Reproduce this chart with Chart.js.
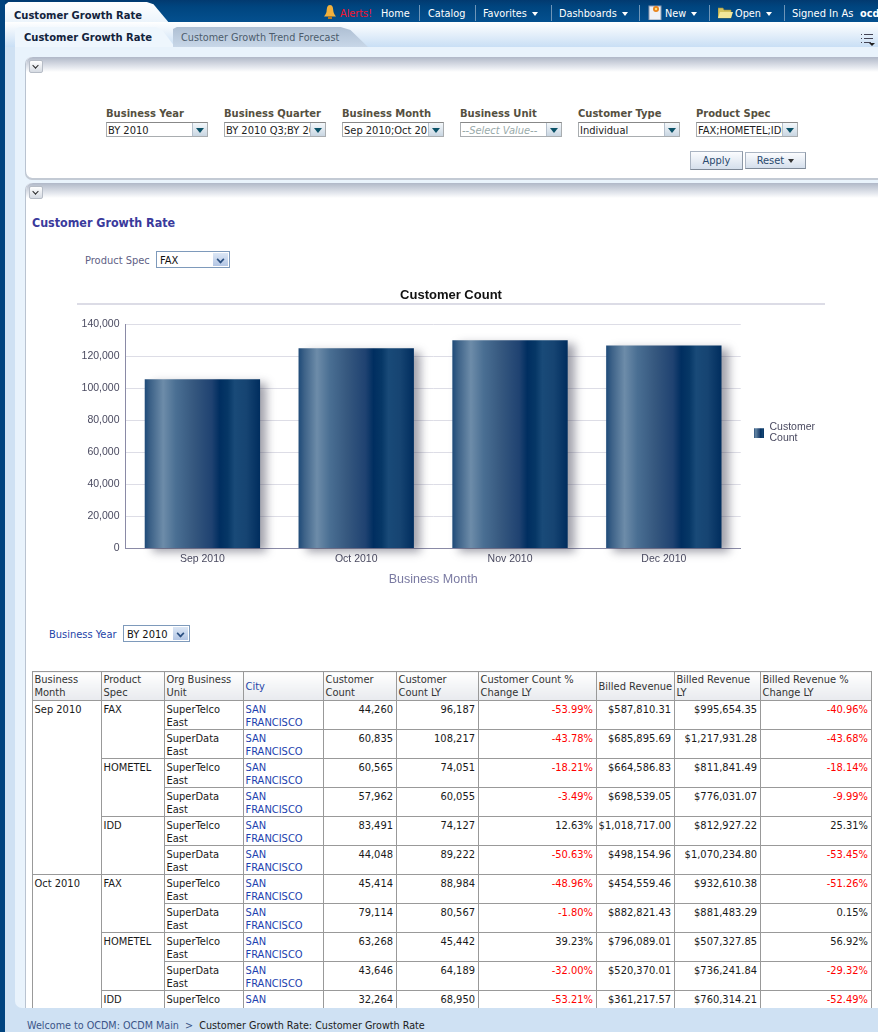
<!DOCTYPE html>
<html><head><meta charset="utf-8">
<script src="https://cdn.jsdelivr.net/npm/chart.js@4"></script>
<style>
html,body{margin:0;padding:0;width:878px;height:1032px;overflow:hidden;background:#cfe1f3}
body{position:relative;font-family:"DejaVu Sans Condensed","DejaVu Sans";font-stretch:condensed;font-size:11px;color:#222}
.a{position:absolute;white-space:nowrap}
.lab{font-weight:bold;color:#55503f;font-size:11.1px;top:107px}
.box{position:absolute;top:122px;width:99px;height:13px;border:1px solid #a9adb0;border-top-color:#888;background:#fff;overflow:hidden;line-height:15px;padding-left:1px;font-size:11px;white-space:nowrap;color:#222}
.dd{position:absolute;right:0;top:0;width:14px;height:13px;background:linear-gradient(#f4f8fb,#c9d6e2);border-left:1px solid #b5c0cc}
.dd:after{content:"";position:absolute;left:3px;top:5px;border:4px solid transparent;border-top:5px solid #0b5268;border-bottom:0}
.sep{position:absolute;top:5px;width:1px;height:16px;background:#6e95b8}
.nav{position:absolute;top:7px;color:#fff;font-size:10.8px;white-space:nowrap}
.arr{display:inline-block;margin-left:5px;border:3.5px solid transparent;border-top:4px solid #fff;border-bottom:0;vertical-align:1px}
.panel{position:absolute;left:25px;width:853px;background:#fff;border-left:1px solid #b9c3d0;border-radius:7px 0 0 7px;box-sizing:border-box}
.ptop{position:absolute;left:0;right:0;top:0;height:15px;background:linear-gradient(#b0b8c8,#e6e9ef 70%,#fff);border-radius:7px 0 0 0}
.col{position:absolute;left:3px;width:12px;height:11px;background:linear-gradient(#fff,#d6dbe3);border:1px solid #b6bcc6;border-radius:2px}
.col:after{content:"";position:absolute;left:3px;top:2px;width:4px;height:4px;border-right:1px solid #222;border-bottom:1px solid #222;transform:rotate(45deg) scale(.9)}
.sel{position:absolute;border:1px solid #7e9abb;background:#fff;height:15px;line-height:17px;padding-left:3px;color:#111;box-sizing:content-box;font-size:11px}
.sbtn{position:absolute;right:1px;top:1px;width:15px;height:13px;background:linear-gradient(#dbe6f5,#b3c6e4)}
.sbtn:after{content:"";position:absolute;left:4px;top:3px;width:5px;height:5px;border-right:2px solid #2a4f80;border-bottom:2px solid #2a4f80;transform:rotate(45deg) scale(.8)}
.btn{position:absolute;background:linear-gradient(#fbfcfe,#d5dfec);border:1px solid #aab4c2;border-bottom-color:#7d8896;border-right-color:#8d98a6;text-align:center;color:#2b4a6e;font-size:11px;box-sizing:border-box}
#tw{position:absolute;left:32px;top:671px;width:840px;height:337px;overflow:hidden}
table{border-collapse:collapse;table-layout:fixed;width:840px;font-size:11px;line-height:13px;color:#1a1a1a}
th,td{border:1px solid #999;padding:0 1px 0 1.5px;vertical-align:top;overflow:hidden;height:28px;box-sizing:border-box;white-space:normal}
td{padding-top:2px}
tr{height:29px}
th{font-weight:normal;text-align:left;vertical-align:middle;background:linear-gradient(#fff,#e8eaee);color:#333}
th.c{color:#2645a8}
td.n{text-align:right;padding-right:3px}
td.l{color:#1d3fae}
.neg{color:#f00}
#cw{position:absolute;left:77px;top:278px;width:748px;height:328px}
</style></head><body>

<!-- frame -->
<div class="a" style="left:0;top:0;width:878px;height:22px;background:linear-gradient(#023a70,#00457f 30%,#04508f)"></div>
<div class="a" style="left:0;top:0;width:5px;height:1032px;background:#00437f"></div>
<div class="a" style="left:5px;top:2px;width:165px;height:22px;background:linear-gradient(#fff,#eaf3fb);clip-path:polygon(0 12%,2% 0,86% 0,90% 10%,100% 100%,0 100%)"></div>
<div class="a" style="left:5px;top:22px;width:873px;height:25px;background:linear-gradient(#fff,#c9dff5)"></div>
<div class="a" style="left:15px;top:27px;width:160px;height:20px;background:#eef6fd;clip-path:polygon(0 10%,3% 0,88% 0,92% 15%,100% 100%,0 100%)"></div>
<div class="a" style="left:173px;top:27px;width:195px;height:20px;background:linear-gradient(#aebfd3,#c8d7e8);clip-path:polygon(0 100%,0 10%,2% 0,86% 0,91% 15%,100% 100%)"></div>
<div class="a" style="left:15px;top:47px;width:863px;height:961px;background:#e9f3fc;border-radius:0 0 0 7px"></div>
<div class="a" style="left:5px;top:47px;width:10px;height:985px;background:#cfe1f3"></div>
<div class="a" style="left:15px;top:1008px;width:863px;height:24px;background:#cfe1f3"></div>
<div class="a" style="left:14px;top:9px;font-weight:bold;font-size:11.1px;color:#12233c">Customer Growth Rate</div>
<div class="a" style="left:24px;top:31px;font-weight:bold;font-size:11.1px;color:#12233c">Customer Growth Rate</div>
<div class="a" style="left:181px;top:31px;font-size:10.75px;color:#4c5c6c">Customer Growth Trend Forecast</div>

<!-- nav -->
<svg class="a" style="left:323px;top:4px" width="14" height="16" viewBox="0 0 14 16"><path d="M7 1C4 1 4 4 3.5 8 3 10 2 11 1 12.5h12C12 11 11 10 10.5 8 10 4 10 1 7 1z" fill="#f2b13c"/><rect x="5" y="12.5" width="4" height="2.5" fill="#b77a1e"/></svg>
<div class="nav" style="left:340px;color:#f3142e">Alerts!</div>
<div class="nav" style="left:381px">Home</div><div class="sep" style="left:419px"></div>
<div class="nav" style="left:428px">Catalog</div><div class="sep" style="left:475px"></div>
<div class="nav" style="left:483px">Favorites<span class="arr"></span></div><div class="sep" style="left:551px"></div>
<div class="nav" style="left:559px">Dashboards<span class="arr"></span></div><div class="sep" style="left:639px"></div>
<svg class="a" style="left:648px;top:4px" width="14" height="16" viewBox="0 0 14 16"><rect x="1" y="2" width="12" height="14" fill="#eef1f6" stroke="#8d9ab0"/><circle cx="8" cy="5" r="3" fill="#e8831c"/><circle cx="8" cy="5" r="1.2" fill="#ffe27a"/></svg>
<div class="nav" style="left:665px">New<span class="arr"></span></div><div class="sep" style="left:709px"></div>
<svg class="a" style="left:718px;top:6px" width="15" height="13" viewBox="0 0 15 13"><path d="M0 2h5l1 2h7v8H0z" fill="#d3c25f" stroke="#95883a" stroke-width=".6"/><path d="M2 6h13l-2 6H0z" fill="#f2e69a"/></svg>
<div class="nav" style="left:735px">Open<span class="arr"></span></div><div class="sep" style="left:784px"></div>
<div class="nav" style="left:792px;font-size:11px">Signed In As</div>
<div class="nav" style="left:860px;font-weight:bold">ocd</div>
<svg class="a" style="left:861px;top:33px" width="14" height="13" viewBox="0 0 14 13" stroke="#445" stroke-width="1"><path d="M0 1.5h1M3 1.5h9M0 5.5h1M3 5.5h9M0 9.5h1M3 9.5h7" fill="none"/><path d="M8 10h6l-3 3z" fill="#222" stroke="none"/></svg>

<!-- panel 1 -->
<div class="panel" style="top:57px;height:121px;box-shadow:0 2px 0 #c3cad4">
  <div class="ptop"></div><div class="col" style="top:3px"></div>
</div>
<div id="filters"></div>
<div class="btn" style="left:690px;top:151px;width:53px;height:19px;line-height:18px">Apply</div>
<div class="btn" style="left:745px;top:152px;width:61px;height:17px;line-height:16px">Reset <span class="arr" style="border-top-color:#333;margin-left:1px"></span></div>

<!-- panel 2 -->
<div class="panel" style="top:183px;height:825px;border-radius:7px 0 0 0">
  <div class="ptop"></div><div class="col" style="top:3px"></div>
</div>
<div class="a" style="left:32px;top:215px;font-weight:bold;font-size:12.4px;color:#3a3a9c">Customer Growth Rate</div>
<div class="a" style="left:85px;top:254px;color:#5f5f85">Product Spec</div>
<div class="sel" style="left:156px;top:251px;width:69px">FAX<div class="sbtn"></div></div>
<div class="a" style="left:49px;top:628px;color:#2444a8">Business Year</div>
<div class="sel" style="left:123px;top:625px;width:62px">BY 2010<div class="sbtn"></div></div>

<div id="cw"><canvas id="c" width="748" height="328"></canvas></div>
<div class="a" style="left:77px;top:303px;width:748px;height:2px;background:#dcdce6"></div>
<div id="tw"><table id="t"></table></div>
<div class="a" style="left:27px;top:1019px;font-size:10.7px;color:#3a5488">Welcome to OCDM: OCDM Main &nbsp;&gt;&nbsp; <span style="color:#222">Customer Growth Rate: Customer Growth Rate</span></div>

<script>
// chart data
const categories = ["Sep 2010","Oct 2010","Nov 2010","Dec 2010"];
const customerCount = [105800,125200,130200,127000];
const yTicks = [0,20000,40000,60000,80000,100000,120000,140000];
const chartTitle = "Customer Count";
const xTitle = "Business Month";
const seriesLabel = ["Customer","Count"];

// table data
const headers = ["Business Month","Product Spec","Org Business Unit","City","Customer Count","Customer Count LY","Customer Count % Change LY","Billed Revenue","Billed Revenue LY","Billed Revenue % Change LY"];
const colWidths = [69,63,79,80,73,82,118,78,86,111];
const rowMonths = [["Sep 2010",6],["Oct 2010",5]];
const rowSpecs = [["FAX",2],["HOMETEL",2],["IDD",2],["FAX",2],["HOMETEL",2],["IDD",1]];
const rowUnits = ["SuperTelco East","SuperData East","SuperTelco East","SuperData East","SuperTelco East","SuperData East","SuperTelco East","SuperData East","SuperTelco East","SuperData East","SuperTelco East"];
const cityName = "SAN FRANCISCO";
const countNow = ["44,260","60,835","60,565","57,962","83,491","44,048","45,414","79,114","63,268","43,646","32,264"];
const countLY = ["96,187","108,217","74,051","60,055","74,127","89,222","88,984","80,567","45,442","64,189","68,950"];
const countChg = ["-53.99%","-43.78%","-18.21%","-3.49%","12.63%","-50.63%","-48.96%","-1.80%","39.23%","-32.00%","-53.21%"];
const revenue = ["$587,810.31","$685,895.69","$664,586.83","$698,539.05","$1,018,717.00","$498,154.96","$454,559.46","$882,821.43","$796,089.01","$520,370.01","$361,217.57"];
const revenueLY = ["$995,654.35","$1,217,931.28","$811,841.49","$776,031.07","$812,927.22","$1,070,234.80","$932,610.38","$881,483.29","$507,327.85","$736,241.84","$760,314.21"];
const revenueChg = ["-40.96%","-43.68%","-18.14%","-9.99%","25.31%","-53.45%","-51.26%","0.15%","56.92%","-29.32%","-52.49%"];

// filters
const filterLabels = ["Business Year","Business Quarter","Business Month","Business Unit","Customer Type","Product Spec"];
const filterValues = ["BY 2010","BY 2010 Q3;BY 2010 Q4","Sep 2010;Oct 2010;Nov 2010","--Select Value--","Individual","FAX;HOMETEL;IDD"];

const fEl = document.getElementById('filters');
filterLabels.forEach((l,i)=>{
  const x = 106 + i*118;
  const ph = i===3;
  fEl.insertAdjacentHTML('beforeend',
   `<div class="a lab" style="left:${x}px">${l}</div>
    <div class="box" style="left:${x}px;${ph?'color:#9aa;font-style:italic':''}">${filterValues[i]}<div class="dd"></div></div>`);
});

// table
let h = '<colgroup>'+colWidths.map(w=>`<col style="width:${w}px">`).join('')+'</colgroup><tr>';
headers.forEach((t,i)=>{ h += `<th class="${i===3?'c':''}">${t}</th>`; });
h += '</tr>';
const mStart = {}; let p=0; rowMonths.forEach(m=>{mStart[p]=m; p+=m[1];});
const sStart = {}; p=0; rowSpecs.forEach(s=>{sStart[p]=s; p+=s[1];});
const neg = s => s[0]==='-' ? 'n neg' : 'n';
rowUnits.forEach((u,i)=>{
  h += '<tr>';
  if(mStart[i]) h += `<td rowspan="${mStart[i][1]}">${mStart[i][0]}</td>`;
  if(sStart[i]) h += `<td rowspan="${sStart[i][1]}">${sStart[i][0]}</td>`;
  h += `<td>${u}</td><td class="l">${cityName}</td><td class="n">${countNow[i]}</td><td class="n">${countLY[i]}</td>`+
       `<td class="${neg(countChg[i])}">${countChg[i]}</td><td class="n">${revenue[i]}</td><td class="n">${revenueLY[i]}</td><td class="${neg(revenueChg[i])}">${revenueChg[i]}</td></tr>`;
});
document.getElementById('t').innerHTML = h;

// chart
const barPct = .75;
function addStops(g){
  g.addColorStop(0,'#1e4a78'); g.addColorStop(.05,'#3d6288');
  g.addColorStop(.16,'#6d8ca9'); g.addColorStop(.27,'#4a6f93');
  g.addColorStop(.42,'#36587f'); g.addColorStop(.58,'#1f4271');
  g.addColorStop(.65,'#002e60'); g.addColorStop(.72,'#063766');
  g.addColorStop(.78,'#194a78'); g.addColorStop(.88,'#164472');
  g.addColorStop(1,'#002d5e');
  return g;
}
const barFill = (context) => {
  const chart = context.chart, xs = chart.scales.x;
  if(!xs || context.dataIndex===undefined) return '#1b4a78';
  const c = xs.getPixelForValue(context.dataIndex), half = xs.width/categories.length*barPct/2;
  return addStops(chart.ctx.createLinearGradient(c-half,0,c+half,0));
};
// legend swatch: gradient square, sits lower than the first text line
const swatch = document.createElement('canvas');
swatch.width=10; swatch.height=22;
(function(){const s=swatch.getContext('2d');s.fillStyle=addStops(s.createLinearGradient(0,0,10,0));s.fillRect(0,12,10,10);})();

const shadowPlugin = {
  id:'barShadow',
  beforeDatasetDraw(chart){
    const c = chart.ctx; c.save();
    c.shadowColor='rgba(60,60,80,.48)'; c.shadowBlur=9; c.shadowOffsetX=7; c.shadowOffsetY=4;
  },
  afterDatasetDraw(chart){ chart.ctx.restore(); }
};
Chart.defaults.font.family = '"Liberation Sans",Arial,sans-serif';
new Chart(document.getElementById('c'),{
  type:'bar',
  plugins:[shadowPlugin],
  data:{labels:categories,datasets:[{label:seriesLabel.join(' '),data:customerCount,backgroundColor:barFill,borderWidth:0,categoryPercentage:barPct,barPercentage:1,clip:false}]},
  options:{
    responsive:false,animation:false,devicePixelRatio:1,
    layout:{padding:{left:0,right:0,top:0,bottom:19}},
    plugins:{
      tooltip:{enabled:false},
      title:{display:true,text:chartTitle,color:'#111',font:{size:13,weight:'bold'},padding:{top:10,bottom:21}},
      legend:{position:'right',labels:{
        color:'#4a4a60',font:{size:10.5,lineHeight:1},boxWidth:10,boxHeight:10,padding:13.5,usePointStyle:true,
        generateLabels(){
          return [{text:seriesLabel,fillStyle:'#1f4a78',strokeStyle:'transparent',lineWidth:0,datasetIndex:0,fontColor:'#4a4a60',pointStyle:swatch}];
        }
      }}
    },
    scales:{
      x:{grid:{display:false,drawTicks:false},border:{color:'#8a8aa6',width:1},
         ticks:{color:'#4a4a60',font:{size:10.5},padding:4,maxRotation:0},
         title:{display:true,text:xTitle,color:'#7a7aa2',font:{size:12.5},padding:{top:3,bottom:0}}},
      y:{min:0,max:140000,afterBuildTicks(ax){ax.ticks=yTicks.map(v=>({value:v}));},
         afterFit(ax){ax.width=48.5;},
         grid:{color:'#dddde6',drawTicks:false},border:{color:'#8a8aa6'},
         ticks:{color:'#4a4a60',font:{size:10.5},padding:6,callback:v=>v.toLocaleString('en-US')}}
    }
  }
});
</script>
</body></html>
